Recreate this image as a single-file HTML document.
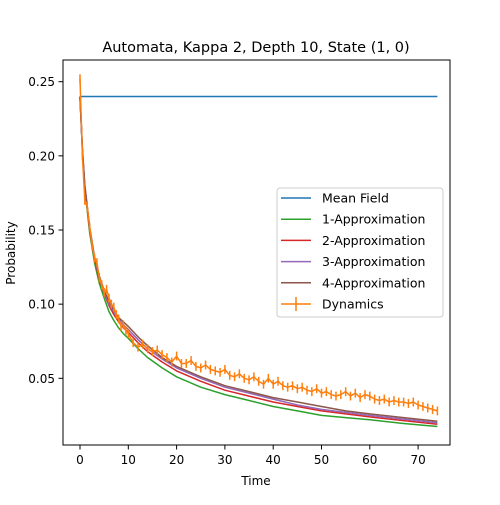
<!DOCTYPE html>
<html><head><meta charset="utf-8"><style>
body{margin:0;background:#fff;}
svg text{font-family:"DejaVu Sans","Liberation Sans",sans-serif;fill:#000;}
</style></head><body>
<svg id="chart" width="500" height="500" xmlns="http://www.w3.org/2000/svg">
<rect width="500" height="500" fill="#fff"/>
<text x="256" y="52" font-size="14.5" text-anchor="middle">Automata, Kappa 2, Depth 10, State (1, 0)</text>
<g id="plot"></g>
<rect x="63" y="60" width="387" height="385" fill="none" stroke="#000" stroke-width="1"/>
<g id="ticks"></g>
<text x="256" y="485" font-size="12" text-anchor="middle">Time</text>
<text transform="translate(15,253) rotate(-90)" font-size="12" text-anchor="middle">Probability</text>
<g id="legend"></g>
</svg>
<script>
const approxTimes=[0,0.5,1,2,3,4,5,6,7,8,9,10,12,14,17,20,25,30,35,40,45,50,55,60,67,74];
const meanField=0.24;
const approx1=[0.24,0.203,0.178,0.148,0.128,0.114,0.104,0.095,0.089,0.084,0.080,0.077,0.070,0.064,0.057,0.051,0.044,0.039,0.035,0.031,0.028,0.025,0.0235,0.022,0.0195,0.0175];
const approx2=[0.24,0.204,0.179,0.150,0.130,0.117,0.107,0.099,0.093,0.088,0.084,0.081,0.074,0.068,0.061,0.055,0.048,0.042,0.038,0.034,0.031,0.028,0.026,0.024,0.0215,0.019];
const approx3=[0.24,0.204,0.180,0.151,0.131,0.118,0.108,0.100,0.095,0.090,0.086,0.083,0.076,0.070,0.063,0.057,0.050,0.044,0.040,0.036,0.032,0.029,0.027,0.025,0.0225,0.020];
const approx4=[0.24,0.205,0.180,0.152,0.132,0.119,0.109,0.102,0.096,0.091,0.088,0.085,0.078,0.072,0.064,0.058,0.051,0.045,0.041,0.037,0.034,0.031,0.028,0.026,0.0235,0.021];
const dynTimes=[0,0.5,1,1.5,2,2.5,3,3.5,4,4.5,5,5.5,6,6.5,7,7.5,8,8.5,9,9.5,10,11,12,13,14,15,16,17,18,19,20,21,22,23,24,25,26,27,28,29,30,31,32,33,34,35,36,37,38,39,40,41,42,43,44,45,46,47,48,49,50,51,52,53,54,55,56,57,58,59,60,61,62,63,64,65,66,67,68,69,70,71,72,73,74];
const dynamics=[0.252,0.200,0.170,0.166,0.152,0.140,0.131,0.128,0.118,0.113,0.108,0.110,0.104,0.100,0.098,0.093,0.090,0.085,0.086,0.082,0.080,0.074,0.071,0.073,0.070,0.068,0.069,0.066,0.064,0.061,0.065,0.060,0.060,0.062,0.058,0.057,0.059,0.056,0.055,0.054,0.056,0.052,0.051,0.053,0.050,0.049,0.051,0.048,0.046,0.050,0.046,0.048,0.045,0.044,0.045,0.043,0.044,0.042,0.041,0.043,0.040,0.041,0.039,0.038,0.039,0.041,0.038,0.040,0.037,0.039,0.038,0.036,0.035,0.036,0.034,0.035,0.034,0.034,0.033,0.034,0.032,0.031,0.030,0.029,0.028];
const xTicks=[0,10,20,30,40,50,60,70];
const yTicks=[0.05,0.10,0.15,0.20,0.25];
const NS='http://www.w3.org/2000/svg';
function xs(t){return 80+t*4.83;}
function ys(v){return 378.3-(v-0.05)*1483;}
function mk(tag,attrs,parent){const e=document.createElementNS(NS,tag);for(const k in attrs)e.setAttribute(k,attrs[k]);parent.appendChild(e);return e;}
const plot=document.getElementById('plot'),ticks=document.getElementById('ticks'),legend=document.getElementById('legend');
xTicks.forEach(t=>{const g=mk('g',{},ticks);


mk('line',{x1:xs(t),x2:xs(t),y1:445,y2:449.5,stroke:'#000'},g);
const tx=mk('text',{x:xs(t),y:464,'font-size':12,'text-anchor':'middle'},g);tx.textContent=t;});
yTicks.forEach(v=>{const g=mk('g',{},ticks);


mk('line',{x1:58.5,x2:63,y1:ys(v),y2:ys(v),stroke:'#000'},g);
const tx=mk('text',{x:55,y:ys(v)+4.5,'font-size':12,'text-anchor':'end'},g);tx.textContent=v.toFixed(2);});
function pts(ts,vs){return ts.map((t,i)=>xs(t).toFixed(1)+','+ys(vs[i]).toFixed(1)).join(' ');}
const mf=mk('line',{x1:xs(0),x2:xs(74),y1:ys(meanField),y2:ys(meanField),stroke:'#1f77b4','stroke-width':1.5},plot);


const series=[[approx1,'#2ca02c','approx-1-line'],[approx2,'#d62728','approx-2-line'],[approx3,'#9467bd','approx-3-line'],[approx4,'#8c564b','approx-4-line']];
series.forEach(s=>{const p=mk('polyline',{points:pts(approxTimes,s[0]),fill:'none',stroke:s[1],'stroke-width':1.5,'stroke-linejoin':'round'},plot);

});
const dg=mk('g',{},plot);


dynTimes.forEach((t,i)=>{mk('line',{x1:xs(t),x2:xs(t),y1:ys(dynamics[i]+0.003),y2:ys(dynamics[i]-0.003),stroke:'#ff7f0e','stroke-width':1.5},dg);});
mk('polyline',{points:pts(dynTimes,dynamics),fill:'none',stroke:'#ff7f0e','stroke-width':1.5},dg);
mk('rect',{x:277,y:188,width:166,height:129,rx:3,fill:'#fff','fill-opacity':0.8,stroke:'#ccc'},legend);
const items=[['Mean Field','#1f77b4'],['1-Approximation','#2ca02c'],['2-Approximation','#d62728'],['3-Approximation','#9467bd'],['4-Approximation','#8c564b'],['Dynamics','#ff7f0e']];
items.forEach((it,i)=>{const y=198+i*21.2;const g=mk('g',{},legend);


mk('line',{x1:281,x2:311,y1:y,y2:y,stroke:it[1],'stroke-width':1.5},g);
if(i===5)mk('line',{x1:296,x2:296,y1:y-7,y2:y+7,stroke:it[1],'stroke-width':1.5},g);
const tx=mk('text',{x:322,y:y+4.5,'font-size':12.5},g);tx.textContent=it[0];});
</script>
</body></html>
